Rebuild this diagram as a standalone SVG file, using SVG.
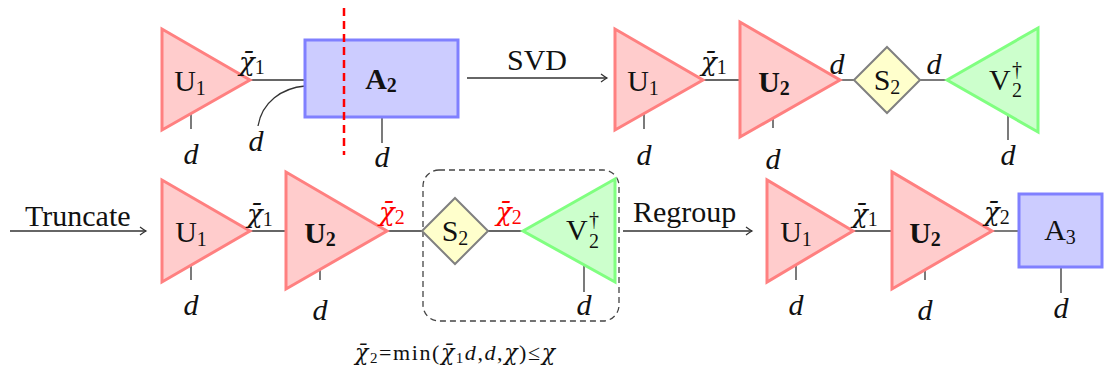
<svg xmlns="http://www.w3.org/2000/svg" width="1106" height="371" viewBox="0 0 1106 371">
<defs>
<marker id="arr" viewBox="-8 -5 10 10" refX="0" refY="0" markerWidth="10" markerHeight="10" markerUnits="userSpaceOnUse" orient="auto">
<path d="M-6,-4 Q-2,-1 0,0 Q-2,1 -6,4" fill="none" stroke="#333" stroke-width="1.2"/>
</marker>
<style>
.red{fill:#ffcccc;stroke:#ff8080;stroke-width:3;stroke-linejoin:miter}
.grn{fill:#ccffcc;stroke:#80ff80;stroke-width:3}
.blu{fill:#ccccff;stroke:#8080ff;stroke-width:3}
.yel{fill:#ffffcc;stroke:#808080;stroke-width:2}
.ln{stroke:#333;stroke-width:1.3;fill:none}
.t{font-family:"Liberation Serif","DejaVu Serif",serif;font-size:30px;fill:#111}
.b{font-weight:bold}
.i{font-style:italic}
.m{text-anchor:middle}
.s{font-size:20px}
.c{font-family:"DejaVu Serif","Liberation Serif",serif;font-style:italic;font-size:26px;fill:#111}
.r{fill:#ff0000}
.cap{font-family:"Liberation Serif","DejaVu Serif",serif;font-size:22px;fill:#111}
</style>
</defs>
<g id="connectors">
<line class="ln" x1="250" y1="80" x2="305" y2="80"/>
<path class="ln" d="M305,86 C282,88 262,102 258,126"/>
<line class="ln" x1="191" y1="114" x2="191" y2="129"/>
<line class="ln" x1="382" y1="117" x2="382" y2="143"/>
<line class="ln" x1="467" y1="78" x2="607" y2="78" marker-end="url(#arr)"/>
<line class="ln" x1="644" y1="114" x2="644" y2="129"/>
<line class="ln" x1="703" y1="80" x2="740" y2="80"/>
<line class="ln" x1="773" y1="118" x2="773" y2="128"/>
<line class="ln" x1="840" y1="80" x2="855" y2="80"/>
<line class="ln" x1="920" y1="80" x2="947" y2="80"/>
<line class="ln" x1="1008" y1="115" x2="1008" y2="140"/>
<line class="ln" x1="10" y1="231" x2="146" y2="231" marker-end="url(#arr)"/>
<line class="ln" x1="191" y1="265" x2="191" y2="280"/>
<line class="ln" x1="250" y1="231" x2="286" y2="231"/>
<line class="ln" x1="320" y1="270" x2="320" y2="280"/>
<line class="ln" x1="387" y1="231" x2="423" y2="231"/>
<line class="ln" x1="488" y1="231" x2="523" y2="231"/>
<line class="ln" x1="584" y1="265" x2="584" y2="292"/>
<line class="ln" x1="623" y1="231" x2="752" y2="231" marker-end="url(#arr)"/>
<line class="ln" x1="796" y1="265" x2="796" y2="280"/>
<line class="ln" x1="853" y1="231" x2="892" y2="231"/>
<line class="ln" x1="925" y1="270" x2="925" y2="280"/>
<line class="ln" x1="992" y1="231" x2="1019" y2="231"/>
<line class="ln" x1="1061" y1="267" x2="1061" y2="293"/>
</g>
<g id="U1-top">
<polygon class="red" points="162,29 162,130 250,80"/>
<text class="t m" x="190" y="91">U<tspan class="s" dy="4">1</tspan></text>
</g>
<g id="A2">
<rect class="blu" x="305" y="40" width="153" height="77"/>
<text class="t b m" x="381" y="89">A<tspan class="s" dy="3">2</tspan></text>
</g>
<g id="cut">
<line x1="344" y1="8" x2="344" y2="155" stroke="#ff0000" stroke-width="2.5" stroke-dasharray="8 5"/>
</g>
<g id="U1-svd">
<polygon class="red" points="615,29 615,130 703,80"/>
<text class="t m" x="643" y="91">U<tspan class="s" dy="4">1</tspan></text>
</g>
<g id="U2-svd">
<polygon class="red" points="740,22 740,137 840,80"/>
<text class="t b m" x="774" y="92">U<tspan class="s" dy="3">2</tspan></text>
</g>
<g id="S2-svd">
<polygon class="yel" points="887,47 920,80 887,113 854,80"/>
<text class="t m" x="887" y="90">S<tspan class="s" dy="4">2</tspan></text>
</g>
<g id="V2-svd">
<polygon class="grn" points="947,80 1038,28 1038,132"/>
<text class="t" x="989" y="90">V<tspan class="s" x="1012" y="76">†</tspan><tspan class="s" x="1012" y="97">2</tspan></text>
</g>
<g id="U1-tr">
<polygon class="red" points="162,180 162,282 250,231"/>
<text class="t m" x="191" y="242">U<tspan class="s" dy="4">1</tspan></text>
</g>
<g id="U2-tr">
<polygon class="red" points="286,172 286,289 387,231"/>
<text class="t b m" x="320" y="243">U<tspan class="s" dy="3">2</tspan></text>
</g>
<g id="group">
<rect x="423" y="170" width="196" height="151" rx="16" fill="none" stroke="#444" stroke-width="1.3" stroke-dasharray="6 4"/>
</g>
<g id="S2-tr">
<polygon class="yel" points="455,198 488,231 455,264 422,231"/>
<text class="t m" x="455" y="241">S<tspan class="s" dy="4">2</tspan></text>
</g>
<g id="V2-tr">
<polygon class="grn" points="523,231 615,179 615,282"/>
<text class="t" x="566" y="240">V<tspan class="s" x="589" y="226">†</tspan><tspan class="s" x="589" y="248">2</tspan></text>
</g>
<g id="U1-rg">
<polygon class="red" points="767,180 767,282 853,231"/>
<text class="t m" x="796" y="242">U<tspan class="s" dy="4">1</tspan></text>
</g>
<g id="U2-rg">
<polygon class="red" points="892,172 892,289 992,231"/>
<text class="t b m" x="925" y="243">U<tspan class="s" dy="3">2</tspan></text>
</g>
<g id="A3">
<rect class="blu" x="1019" y="194" width="83" height="73"/>
<text class="t m" x="1060" y="240">A<tspan class="s" dy="4">3</tspan></text>
</g>
<g id="labels">
<text class="t" x="507" y="70">SVD</text>
<text class="t" x="25" y="226">Truncate</text>
<text class="t" x="633" y="222">Regroup</text>
<text class="c" x="239" y="71">χ̄<tspan class="s" font-style="normal" font-family="Liberation Serif" dy="3">1</tspan></text>
<text class="c" x="701" y="71">χ̄<tspan class="s" font-style="normal" font-family="Liberation Serif" dy="3">1</tspan></text>
<text class="c" x="247" y="223">χ̄<tspan class="s" font-style="normal" font-family="Liberation Serif" dy="3">1</tspan></text>
<text class="c r" x="379" y="221">χ̄<tspan class="s" font-style="normal" font-family="Liberation Serif" dy="3">2</tspan></text>
<text class="c r" x="496" y="221">χ̄<tspan class="s" font-style="normal" font-family="Liberation Serif" dy="3">2</tspan></text>
<text class="c" x="852" y="223">χ̄<tspan class="s" font-style="normal" font-family="Liberation Serif" dy="3">1</tspan></text>
<text class="c" x="984" y="221">χ̄<tspan class="s" font-style="normal" font-family="Liberation Serif" dy="3">2</tspan></text>
<text class="t i m" x="191" y="164">d</text>
<text class="t i m" x="256" y="151">d</text>
<text class="t i m" x="382" y="167">d</text>
<text class="t i m" x="644" y="165">d</text>
<text class="t i m" x="773" y="169">d</text>
<text class="t i m" x="1008" y="165">d</text>
<text class="t i m" x="837" y="74">d</text>
<text class="t i m" x="934" y="74">d</text>
<text class="t i m" x="191" y="315">d</text>
<text class="t i m" x="320" y="320">d</text>
<text class="t i m" x="584" y="315">d</text>
<text class="t i m" x="796" y="315">d</text>
<text class="t i m" x="925" y="320">d</text>
<text class="t i m" x="1061" y="318">d</text>
<text class="cap" x="355" y="360" textLength="200" lengthAdjust="spacing"><tspan font-family="DejaVu Serif" font-style="italic">χ̄</tspan><tspan font-size="15" dy="3">2</tspan><tspan dy="-3">=min(</tspan><tspan font-family="DejaVu Serif" font-style="italic">χ̄</tspan><tspan font-size="15" dy="3">1</tspan><tspan dy="-3" font-style="italic">d</tspan>,<tspan font-style="italic">d</tspan>,<tspan font-family="DejaVu Serif" font-style="italic">χ</tspan>)≤<tspan font-family="DejaVu Serif" font-style="italic">χ</tspan></text>
</g>
</svg>
